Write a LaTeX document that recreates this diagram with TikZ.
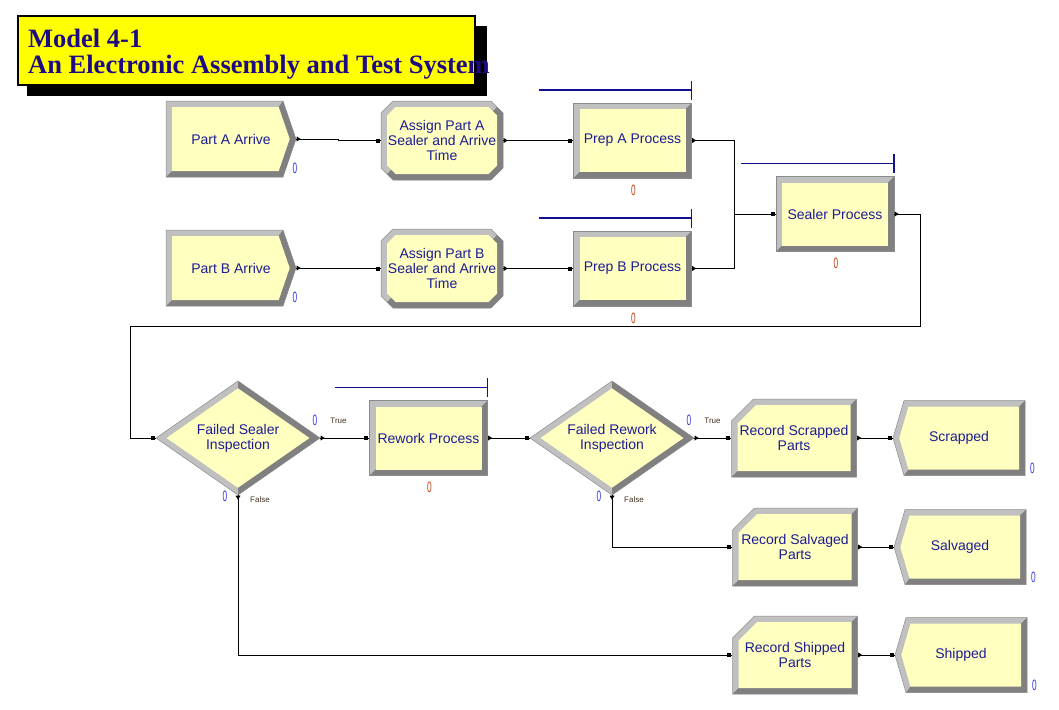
\documentclass[tikz,border=0pt]{standalone}
\usepackage{fontspec}
\usepackage{graphicx}
\setmainfont{Liberation Sans}
\newfontfamily\titlefont{Liberation Serif}
\usetikzlibrary{calc}
\definecolor{cream}{HTML}{FFFFC0}
\definecolor{lite}{HTML}{C0C0C0}
\definecolor{darkrim}{HTML}{808080}
\definecolor{rim}{HTML}{8C8C8C}
\definecolor{ink}{HTML}{1C1C96}
\definecolor{navy}{HTML}{1E0A82}
\definecolor{titleyel}{HTML}{FFFF00}
\definecolor{qblue}{HTML}{101090}
\definecolor{cntblue}{HTML}{3434E6}
\definecolor{cntred}{HTML}{C83C14}
\definecolor{brnk}{HTML}{40301E}
\newcommand{\Zero}{\scalebox{0.55}[1]{0}}

% bevelled module: outer path, inner path, clip of the dark side
\newcommand{\Bevel}[3]{%
  \fill[lite] #1;
  \begin{scope}\clip #3; \fill[darkrim] #1;\end{scope}
  \fill[cream] #2;
  \draw[rim, line width=0.5] #1;
}
\newcommand{\CreateMod}[3]{%
  \begin{scope}[shift={#2}]
    \Bevel{(-65,-38) -- (52,-38) -- (65,0) -- (52,38) -- (-65,38) -- cycle}
          {(-59,-32) -- (47.7,-32) -- (58.7,0) -- (47.7,32) -- (-59,32) -- cycle}
          {(-65,38) -- (-59,32) -- (47.7,-32) -- (52,-38) -- (80,-45) -- (80,50) -- (-70,50) -- cycle}
    \node[cnt, cntblue] (#1c) at (64,29) {\Zero};
    \node[modtext, minimum width=130, minimum height=76] (#1) at (0,0) {#3};
  \end{scope}}
\newcommand{\AssignMod}[3]{%
  \begin{scope}[shift={#2}]
    \Bevel{(-61,-27.5) -- (-49,-39.5) -- (49,-39.5) -- (61,-27.5) -- (61,27.5) -- (49,39.5) -- (-49,39.5) -- (-61,27.5) -- cycle}
          {(-55,-25) -- (-46.5,-33.5) -- (46.5,-33.5) -- (55,-25) -- (55,25) -- (46.5,33.5) -- (-46.5,33.5) -- (-55,25) -- cycle}
          {(-55,33.5) -- (-50.75,29.25) -- (50.75,-29.25) -- (55,-33.5) -- (80,-50) -- (80,50) -- (-70,50) -- cycle}
    \node[modtext, minimum width=122, minimum height=79] (#1) at (0,0) {#3};
  \end{scope}}
\newcommand{\ProcMod}[3]{%
  \begin{scope}[shift={#2}]
    \Bevel{(-59,-37.5) rectangle (59,37.5)}
          {(-53,-31.5) rectangle (53,31.5)}
          {(-59,37.5) -- (-53,31.5) -- (53,-31.5) -- (59,-37.5) -- (75,-45) -- (75,50) -- (-70,50) -- cycle}
    \draw[queue] (-94,-50.5) -- (59,-50.5);
    \draw[queue] (59,-60) -- (59,-41);
    \node[cnt, cntred] (#1c) at (1,49.5) {\Zero};
    \node[modtext, minimum width=118, minimum height=75] (#1) at (0,0) {#3};
  \end{scope}}
\newcommand{\DecideMod}[3]{%
  \begin{scope}[shift={#2}]
    \Bevel{(-82,0) -- (0,-57) -- (82,0) -- (0,57) -- cycle}
          {(-71.5,0) -- (0,-49.7) -- (71.5,0) -- (0,49.7) -- cycle}
          {(0,-60) -- (90,-60) -- (90,60) -- (0,60) -- cycle}
    \node[cnt, cntblue] (#1t) at (77,-18) {\Zero};
    \node[tf] (#1tl) at (100.5,-17) {True};
    \node[cnt, cntblue] (#1f) at (-13,58.5) {\Zero};
    \node[tf] (#1fl) at (22,62) {False};
    \node[modtext, minimum width=164, minimum height=114] (#1) at (0,0) {#3};
  \end{scope}}
\newcommand{\RecordMod}[3]{%
  \begin{scope}[shift={#2}]
    \Bevel{(-62.5,-17) -- (-40.5,-39) -- (62.5,-39) -- (62.5,39) -- (-62.5,39) -- cycle}
          {(-56.5,-14.5) -- (-38,-33) -- (56.5,-33) -- (56.5,33) -- (-56.5,33) -- cycle}
          {(-62.5,39) -- (-56.5,33) -- (56.5,-33) -- (62.5,-39) -- (80,-50) -- (80,50) -- (-70,50) -- cycle}
    \node[modtext, minimum width=125, minimum height=78] (#1) at (0,0) {#3};
  \end{scope}}
\newcommand{\DisposeMod}[3]{%
  \begin{scope}[shift={#2}]
    \Bevel{(-66,0) -- (-55,-37.5) -- (66,-37.5) -- (66,37.5) -- (-55,37.5) -- cycle}
          {(-59.7,0) -- (-50.5,-31.5) -- (60,-31.5) -- (60,31.5) -- (-50.5,31.5) -- cycle}
          {(-55,37.5) -- (-50.5,31.5) -- (60,-31.5) -- (66,-37.5) -- (80,-50) -- (80,50) -- (-60,50) -- cycle}
    \node[cnt, cntblue] (#1c) at (73.5,30) {\Zero};
    \node[modtext, minimum width=132, minimum height=75] (#1) at (0,0) {#3};
  \end{scope}}

\begin{document}
\begin{tikzpicture}[x=1pt, y=-1pt,
  modtext/.style={text=ink, font=\fontsize{14}{15}\selectfont, align=center, inner sep=0pt, shape=rectangle},
  cnt/.style={font=\fontsize{15}{15}\selectfont, inner sep=0pt},
  tf/.style={text=brnk, font=\fontsize{8}{8}\selectfont, inner sep=0pt},
  titletext/.style={text=navy, font=\titlefont\bfseries\fontsize{26.5}{26.5}\selectfont, inner sep=0pt},
  queue/.style={qblue, line width=1.1},
  link/.style={black, line width=1}]
\useasboundingbox (0,0) rectangle (1059,709);

% --- Title ------------------------------------------------------------------
\fill[black] (27,26) rectangle (487,96);
\filldraw[fill=titleyel, draw=black, line width=1.2] (18,16) rectangle (475,85);
\node[titletext, anchor=base west] (ttlA) at (28,48) {Model 4-1};
\node[titletext, anchor=base west] (ttlB) at (28,74) {An Electronic Assembly and Test System};

% --- Modules ------------------------------------------------------------------
\CreateMod{pa}{(231,139)}{Part A Arrive}
\CreateMod{pb}{(231,268)}{Part B Arrive}
\AssignMod{aa}{(442,140.5)}{Assign Part A\\Sealer and Arrive\\Time}
\AssignMod{ab}{(442,268.5)}{Assign Part B\\Sealer and Arrive\\Time}
\ProcMod{prepa}{(632.5,140.5)}{Prep A Process}
\ProcMod{prepb}{(632.5,268.5)}{Prep B Process}
\ProcMod{sealer}{(835,214)}{Sealer Process}
\ProcMod{rework}{(428.5,438)}{Rework Process}
\DecideMod{fsi}{(238,438)}{Failed Sealer\\Inspection}
\DecideMod{fri}{(612,438)}{Failed Rework\\Inspection}
\RecordMod{rscrap}{(794,438)}{Record Scrapped\\Parts}
\RecordMod{rsalv}{(795,547)}{Record Salvaged\\Parts}
\RecordMod{rship}{(795,655)}{Record Shipped\\Parts}
\DisposeMod{dscrap}{(959,438)}{Scrapped}
\DisposeMod{dsalv}{(960,547)}{Salvaged}
\DisposeMod{dship}{(961,655)}{Shipped}

% --- Connectors ---------------------------------------------------------------
\foreach \a/\b in {pa/aa, pb/ab}
  \draw[link] (\a.east) -| ($(\a.east)!.5!(\b.west)$) |- (\b.west);
\foreach \a/\b in {aa/prepa, ab/prepb, fsi/rework, rework/fri, fri/rscrap, rscrap/dscrap, rsalv/dsalv, rship/dship}
  \draw[link] (\a.east) -- (\b.west);
\draw[link] (prepa.east) -- ++(43,0) |- (sealer.west);
\draw[link] (prepb.east) -- ++(43,0) |- (sealer.west);
\coordinate (wrap) at (130,326);
\draw[link] (sealer.east) -- ++(26,0) |- (wrap) |- (fsi.west);
\draw[link] (fri.south) |- (rsalv.west);
\draw[link] (fsi.south) |- (rship.west);

% --- Entry and exit points ------------------------------------------------------
\foreach \n in {aa, prepa, ab, prepb, sealer, fsi, rework, fri, rscrap, rsalv, rship, dscrap, dsalv, dship}
  \fill[black] ($(\n.west)+(-5,-2)$) rectangle ++(4,4);
\foreach \n in {pa, aa, prepa, pb, ab, prepb, sealer, fsi, rework, fri, rscrap, rsalv, rship}
  \fill[black] ($(\n.east)+(0.5,-2.5)$) -- ++(4,2.5) -- ++(-4,2.5) -- cycle;
\foreach \n in {fsi, fri}
  \fill[black] ($(\n.south)+(-2.5,0.5)$) -- ++(5,0) -- ++(-2.5,4) -- cycle;

\end{tikzpicture}
\end{document}
